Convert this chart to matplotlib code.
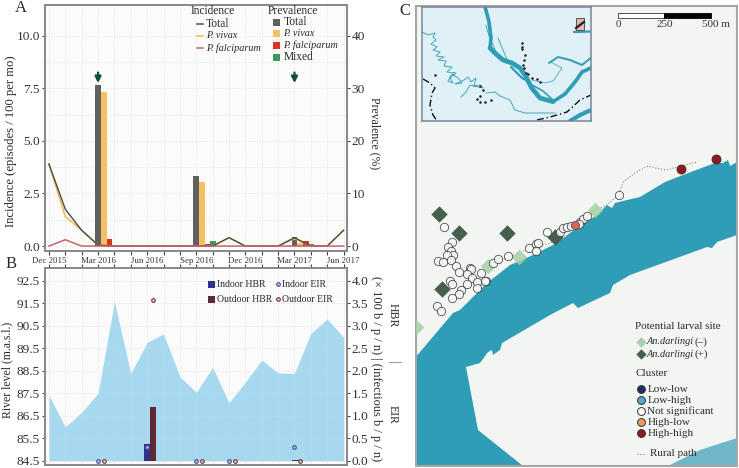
import matplotlib
matplotlib.use("Agg")
import matplotlib.pyplot as plt
import numpy as np
from matplotlib.patches import Polygon, Rectangle

plt.rcParams["font.family"] = ["Liberation Serif", "DejaVu Serif"]

W, H = 739, 468

# panel A
months = np.arange(19)
month_labels = ["Dec 2015", "Mar 2016", "Jun 2016", "Sep 2016", "Dec 2016", "Mar 2017", "Jun 2017"]
month_label_pos = [0, 3, 6, 9, 12, 15, 18]
inc_total = [3.9, 1.75, 0.75, 0.05, 0, 0, 0, 0, 0, 0, 0, 0.4, 0, 0, 0, 0.4, 0, 0, 0.75]
inc_vivax = [3.9, 1.4, 0.75, 0.05, 0, 0, 0, 0, 0, 0, 0, 0.4, 0, 0, 0, 0.35, 0, 0, 0.75]
inc_falc = [0, 0.3, 0, 0, 0, 0, 0, 0, 0, 0, 0, 0, 0, 0, 0, 0, 0, 0, 0]
survey_months = [3, 9, 15]
prev_total = [30.6, 13.4, 1.8]
prev_vivax = [29.3, 12.1, 0.5]
prev_falc = [1.4, 0.4, 0.9]
prev_mixed = [0, 0.95, 0.4]
arrow_months = [3, 15]
arrow_tip = [7.75, 7.75]

# panel B
river_level = [87.4, 86.0, 86.65, 87.5, 91.57, 88.38, 89.76, 90.13, 88.23, 87.54,
               88.65, 87.08, 88.0, 88.97, 88.4, 88.38, 90.16, 90.8, 89.98]
hbr_months = [6, 15]
hbr_indoor = [0.37, 0.01]
hbr_outdoor = [1.185, 0.01]
eir_in_months = [3, 6, 9, 11, 15]
eir_indoor = [0, 0.3, 0, 0, 0.3]
eir_out_months = [3, 6, 9, 11, 15]
eir_outdoor = [0, 3.58, 0, 0, 0]

# panel C, map coordinates follow the picture
river_x = [737, 730, 728, 723, 715, 683, 665, 640, 623, 615, 612, 607, 597, 570, 557, 533, 517,
           510, 500, 487, 460, 453, 415, 415, 523, 478, 466, 480, 488, 492, 493, 500, 502, 550,
           573, 578, 610, 613, 630, 707, 712, 717, 737]
river_y = [162, 166, 160, 163, 163, 175, 182, 197, 201, 203, 208, 205, 215, 233, 243, 255, 262,
           265, 273, 283, 310, 313, 358, 466, 466, 430, 367, 363, 352, 350, 355, 350, 343, 315,
           303, 308, 293, 285, 275, 247, 248, 242, 235]
corner_x = [668, 700, 737, 737, 668]
corner_y = [466, 450, 438, 466, 466]
site_x = [443.7, 452, 448.3, 450.7, 453.3, 446.7, 438.3, 442.7, 451, 456, 459.3, 470, 470.7, 467.3,
          471.7, 480.7, 486, 485.3, 477.3, 477.3, 467, 460.7, 458.7, 451.7, 450, 451.7, 436.7, 440.7,
          492.7, 497.7, 508, 529, 536, 538.3, 536, 547, 560, 563.3, 567.3, 571, 580, 583.3, 579.3,
          586.7, 618.7]
site_y = [227.3, 241.7, 247.3, 250.7, 255, 255, 260.7, 261.7, 260, 266, 271.7, 268.3, 269.3, 274.3,
          277.7, 273.3, 280.7, 280.7, 281.7, 287.7, 284.3, 290, 294, 297.7, 281, 284, 305.7, 310.7,
          263.3, 259, 255.7, 248.3, 244.3, 243.3, 251, 232.3, 231.7, 228.3, 227, 226, 221.7, 219.3, 224,
          216.3, 194.7]
high_low_x = [575]
high_low_y = [225.3]
high_high_x = [681, 716]
high_high_y = [169, 159]
larva_pos_x = [438.7, 458.7, 506.7, 441.7, 555]
larva_pos_y = [214.3, 232.7, 233.3, 289, 237.3]
larva_neg_x = [487.7, 518.7, 595, 416]
larva_neg_y = [266, 256.7, 210, 327.3]
path_x = [696, 680, 666.7, 656.7, 648.3, 636.7, 623.3, 618.3, 606.7, 586.7, 573.3, 550, 530, 510, 490]
path_y = [162.3, 166, 170, 168.3, 166, 171.7, 181.7, 195, 205, 215, 225, 243.3, 248.3, 256.7, 265]
scale_m = [0, 250, 500]
cluster_names = ["Low-low", "Low-high", "Not significant", "High-low", "High-high"]
cluster_colors = ["#1f2a6b", "#57a8c4", "#ffffff", "#ee9a52", "#8c1c22"]

# inset map channels: x, y, width
channels = [
    ([485, 489, 491, 490], [6.7, 21.7, 38, 48], 2.6),
    ([490, 496, 503, 512, 520, 525, 531.7, 540, 553], [48, 54, 60, 63, 68, 75, 88, 98, 101.7], 3.4),
    ([553, 565, 575, 582, 590.7], [101.7, 94, 82, 72, 68], 2.6),
    ([549, 558, 570, 582, 590.7], [63, 57, 60, 65, 58], 1.4),
    ([532, 545, 553, 562, 556, 551], [80, 83, 81, 68, 65, 62], 0.5),
    ([511, 522, 530], [67, 78, 82], 1.6),
    ([532, 543, 553], [85, 91, 100], 1.2),
    ([591, 580, 570], [110, 115, 121], 3.0),
    ([574, 590.7], [32, 31.5], 1.6),
    ([486, 489, 496], [25, 36, 52], 0.6),
    ([498, 503, 508], [38, 50, 62], 0.6),
]
meander_x = [422, 428, 435, 433, 436, 431, 437, 433, 440, 436, 444, 438, 446, 444, 452, 447, 456, 450,
             453, 448, 452, 458, 462, 455, 464, 468, 471, 476, 474, 480, 483, 478, 470, 466, 461]
meander_y = [32, 35, 33, 37, 40, 44, 47, 50, 52, 56, 57, 60, 61, 66, 67, 72, 73, 78, 83, 81, 74,
             78, 83, 84, 80, 77, 82, 78, 86, 85, 88, 87, 85, 92, 97]
stream_x = [486, 495, 500, 510, 515, 525, 538, 555]
stream_y = [93, 92, 96, 100, 110, 113, 113, 113]
border_x = [[423, 430, 435, 432, 430, 433, 437], [537, 550, 567, 580, 591]]
border_y = [[79, 83, 88, 93, 105, 115, 121], [120, 117, 112, 100, 95]]
town_x = [522.3, 522.3, 522.3, 525, 524.3, 523.3, 524, 526, 528.3, 531.7, 536.7, 540, 435, 480, 483.3,
          480, 476.7, 480, 485, 490.7]
town_y = [42.7, 46.7, 49, 55, 60, 65, 68.3, 73.3, 74, 77.7, 79, 81.7, 75, 86, 90, 95.7, 99.3, 102.3, 101.7, 100]


def px_axes(left, top, right, bottom, **kw):
    return plt.gcf().add_axes([left / W, 1 - bottom / H, (right - left) / W, (bottom - top) / H], **kw)


def style_spines(ax, color="#8a8a8a", lw=1.3):
    for s in ax.spines.values():
        s.set_color(color)
        s.set_linewidth(lw)


fig = plt.figure(figsize=(W / 100, H / 100), dpi=100, facecolor="white")
tick_kw = dict(labelsize=9.6, length=2.2, color="#444444", labelcolor="#333333", pad=1.5)

# A: bars on the prevalence axis, lines on the twin so they stay on top
a_prev = px_axes(45, 5, 346.7, 250.7, facecolor="#fbfbfb")
a_prev.set_xlim(-0.24, 18.19)
a_prev.set_ylim(-0.22 * 4, 11.46 * 4)
w = 0.346
xs = np.array(survey_months)
a_prev.bar(xs, prev_total, w, color="#615f5f", zorder=3)
a_prev.bar(xs + w, prev_vivax, w, color="#f6bf5f", zorder=3)
a_prev.bar(xs + 2 * w, prev_falc, w, color="#dc3220", zorder=3)
a_prev.bar(xs + 3 * w, prev_mixed, w, color="#3a9a5c", zorder=3)
a_prev.set_xticks(months)
a_prev.set_yticks([0, 10, 20, 30, 40])
a_prev.set_yticks(np.arange(0, 45, 5), minor=True)
a_prev.set_xticklabels([month_labels[month_label_pos.index(m)] if m in month_label_pos else "" for m in months], fontsize=6.4, color="#333333")
a_prev.tick_params(axis="x", length=3, color="#444444", pad=1.5)
a_prev.grid(True, which="both", color="#dcdcdc", lw=0.5, ls=":")
a_prev.set_axisbelow(True)
style_spines(a_prev)

a_inc = a_prev.twinx()
a_inc.set_ylim(-0.22, 11.46)
a_inc.yaxis.tick_left()
a_prev.yaxis.tick_right()
a_prev.tick_params(axis="y", which="major", **tick_kw)
a_prev.tick_params(axis="y", which="minor", length=0)
a_inc.set_yticks([0, 2.5, 5, 7.5, 10])
a_inc.set_yticklabels(["0.0", "2.5", "5.0", "7.5", "10.0"])
a_inc.tick_params(axis="y", **tick_kw)
a_inc.plot(months, inc_vivax, color="#f0b858", lw=1.1)
a_inc.plot(months, inc_total, color="#4c4c3c", lw=1.0)
a_inc.plot(months, inc_falc, color="#c8636a", lw=1.1)
for m, tip in zip(arrow_months, arrow_tip):
    a_inc.annotate("", xy=(m, tip), xytext=(m, tip + 0.5),
                   arrowprops=dict(arrowstyle="-|>", color="#0f4f2c", lw=1.6, mutation_scale=9, shrinkA=0, shrinkB=0))
style_spines(a_inc)

# B
b_river = px_axes(45, 267.7, 346.7, 465, facecolor="#fbfbfb")
b_river.set_xlim(-0.24, 18.19)
b_river.set_ylim(84.5 - 4.3 / 22.5, 84.5 + 193 / 22.5)
b_river.fill_between(months, 84.5, river_level, color="#a6d9ef", lw=0, zorder=1)
b_river.set_yticks(np.arange(84.5, 93, 1))
b_river.set_xticks(months)
b_river.xaxis.tick_top()
b_river.set_xticklabels([])
b_river.tick_params(axis="x", length=3, color="#444444")
b_river.tick_params(axis="y", **tick_kw)
b_river.grid(True, color="#d8d8d8", lw=0.5, ls=":")
style_spines(b_river)

b_ent = b_river.twinx()
b_ent.set_ylim(-4.3 / 45, 193 / 45)
b_ent.set_xlim(-0.24, 18.19)
b_ent.set_yticks(np.arange(0, 4.5, 0.5))
b_ent.tick_params(axis="y", **tick_kw)
hx = np.array(hbr_months)
b_ent.bar(hx, hbr_indoor, w, color="#33318c", zorder=3)
b_ent.bar(hx + w, hbr_outdoor, w, color="#5c2a30", zorder=3)
b_ent.scatter(eir_in_months, eir_indoor, s=7, facecolor="#b9c6ea", edgecolor="#4a4a9c", lw=0.8, zorder=4, clip_on=False)
b_ent.scatter(np.array(eir_out_months) + w, eir_outdoor, s=7, facecolor="#e8c8c0", edgecolor="#6e3a3a", lw=0.8, zorder=4, clip_on=False)
style_spines(b_ent)

# C
c = px_axes(415.7, 6, 736.7, 465.7, facecolor="#f3f5f3")
c.set_xlim(415.7, 736.7)
c.set_ylim(465.7, 6)
c.set_xticks([])
c.set_yticks([])
c.add_patch(Polygon(np.column_stack([river_x, river_y]), closed=True, color="#2e9db5", lw=0))
c.add_patch(Polygon(np.column_stack([corner_x, corner_y]), closed=True, color="#6fb6c9", lw=0))
c.plot(path_x, path_y, color="#666666", lw=0.7, ls=(0, (1, 2)), zorder=2)
c.scatter(larva_neg_x, larva_neg_y, marker="D", s=62, color="#a8cfa6", lw=0, alpha=0.85, zorder=3)
c.scatter(larva_pos_x, larva_pos_y, marker="D", s=70, color="#47604c", lw=0, zorder=3)
c.scatter(site_x, site_y, s=36, facecolor="#f8f8f8", edgecolor="#333333", lw=0.6, alpha=0.85, zorder=4)
c.scatter(high_low_x, high_low_y, s=34, facecolor="#e0654d", edgecolor="#555555", lw=0.6, zorder=5)
c.scatter(high_high_x, high_high_y, s=42, facecolor="#8c1c22", edgecolor="#5a1a1a", lw=0.6, zorder=5)
style_spines(c, "#a6a6a6", 1.5)

# scale bar
scale_px = [618 + m * 0.1854 for m in scale_m]
c.add_patch(Rectangle((scale_px[0], 13), scale_px[1] - scale_px[0], 5, facecolor="white", edgecolor="#333333", lw=0.6))
c.add_patch(Rectangle((scale_px[1], 13), scale_px[2] - scale_px[1], 5, facecolor="black", edgecolor="black", lw=0.6))
for xp, lab in zip(scale_px, ["0", "250", "500 m"]):
    c.text(xp + (5 if "m" in lab else 0), 24.5, lab, ha="center", va="center", fontsize=8, color="#333333")

# C legend
leg_color = "#2a2a2a"
c.text(635, 326, "Potential larval site", fontsize=7.9, va="center", color=leg_color)
c.scatter([641], [341.7], marker="D", s=28, color="#a8cfa6", lw=0)
c.scatter([641], [354], marker="D", s=28, color="#47604c", lw=0)
c.text(647, 341.7, "An.darlingi", fontsize=7.4, style="italic", va="center", color=leg_color)
c.text(647, 354, "An.darlingi", fontsize=7.4, style="italic", va="center", color=leg_color)
c.text(694.5, 341.7, "(–)", fontsize=8, va="center", color=leg_color)
c.text(694.5, 354, "(+)", fontsize=8, va="center", color=leg_color)
c.text(635, 373.3, "Cluster", fontsize=8, va="center", color=leg_color)
for i, (nm, col) in enumerate(zip(cluster_names, cluster_colors)):
    yy = 389 + i * 11.1
    c.scatter([641], [yy], s=32, facecolor=col, edgecolor="#333333", lw=0.7, zorder=5)
    c.text(647.3, yy, nm, fontsize=8, va="center", color=leg_color)
c.plot([637, 645], [454, 454], color="#666666", lw=0.7, ls=(0, (1, 2)))
c.text(650, 454, "Rural path", fontsize=8, va="center", color=leg_color, zorder=6)

# inset
ins = px_axes(421.7, 6.7, 590.7, 121, facecolor="#dff0f6")
ins.set_xlim(421.7, 590.7)
ins.set_ylim(121, 6.7)
ins.set_xticks([])
ins.set_yticks([])
style_spines(ins, "#7a8499", 1.1)
for cx, cy, lw in channels:
    ins.plot(cx, cy, color="#2e9db5", lw=lw, solid_capstyle="round", solid_joinstyle="round")
ins.plot(meander_x, meander_y, color="#2e9db5", lw=0.6)
ins.plot(stream_x, stream_y, color="#2e9db5", lw=0.6)
for bx, by in zip(border_x, border_y):
    ins.plot(bx, by, color="#111111", lw=1.0, ls=(0, (5, 2, 1, 2)))
ins.scatter(town_x, town_y, s=3.5, color="#2a2230", lw=0, zorder=4)
ins.add_patch(Rectangle((575.7, 18.3), 8.6, 11.7, facecolor="#e8b4b0", edgecolor="#555555", lw=0.7, zorder=5))
ins.plot([576, 584], [28, 22], color="#222222", lw=1.6, zorder=6)

# overlay for labels and the legends of A and B
ov = fig.add_axes([0, 0, 1, 1], facecolor="none")
ov.set_xlim(0, W)
ov.set_ylim(H, 0)
ov.axis("off")
ink = "#2a2a2a"
ov.text(20.5, 8, "A", fontsize=12, ha="center", va="center", color=ink)
ov.text(11.5, 264, "B", fontsize=12, ha="center", va="center", color=ink)
ov.text(405, 11, "C", fontsize=12, ha="center", va="center", color=ink)
ov.text(11, 141, "Incidence (episodes / 100 per mo)", rotation=90, fontsize=9.1, ha="center", va="center", color=ink)
ov.text(375, 133, "Prevalence (%)", rotation=270, fontsize=8.5, ha="center", va="center", color=ink)
ov.text(7, 370, "River level (m.a.s.l.)", rotation=90, fontsize=8.5, ha="center", va="center", color=ink)
ov.text(376, 369, "(× 100 b / p / n) | (infectious b / p / n)", rotation=270, fontsize=8.9, ha="center", va="center", color=ink)
ov.text(393, 315, "HBR", rotation=270, fontsize=8.5, ha="center", va="center", color=ink)
ov.text(393, 362, "|", rotation=270, fontsize=10, ha="center", va="center", color="#777777")
ov.text(393, 414, "EIR", rotation=270, fontsize=8.5, ha="center", va="center", color=ink)

# A legends
ov.text(190.3, 11.5, "Incidence", fontsize=8.3, va="center", color=ink)
for yy, col, lab, ital in [(24.3, "#4c4c3c", "Total", False), (36, "#f0b858", "P. vivax", True), (48.3, "#c8636a", "P. falciparum", True)]:
    ov.plot([196.7, 203], [yy, yy], color=col, lw=1.1)
    ov.text(205.7, yy, lab, fontsize=7.3 if ital else 8.3, va="center", style="italic" if ital else "normal", color=ink)
ov.text(268, 11.5, "Prevalence", fontsize=8.3, va="center", color=ink)
for yy, col, lab, ital in [(22.3, "#615f5f", "Total", False), (33.3, "#f6bf5f", "P. vivax", True), (45, "#dc3220", "P. falciparum", True), (57, "#3a9a5c", "Mixed", False)]:
    ov.add_patch(Rectangle((272.5, yy - 3.5), 7, 7, color=col, lw=0))
    ov.text(283.3, yy, lab, fontsize=7.3 if ital else 8.3, va="center", style="italic" if ital else "normal", color=ink)

# B legend
for yy, col, lab in [(284.3, "#33318c", "Indoor HBR"), (299.3, "#5c2a30", "Outdoor HBR")]:
    ov.add_patch(Rectangle((207.5, yy - 3.5), 7, 7, color=col, lw=0))
    ov.text(217, yy, lab, fontsize=7, va="center", color=ink)
ov.scatter([278], [284.3], s=7, facecolor="#b9c6ea", edgecolor="#4a4a9c", lw=0.8)
ov.scatter([278], [299.3], s=7, facecolor="#e8c8c0", edgecolor="#6e3a3a", lw=0.8)
ov.text(282.3, 284.3, "Indoor EIR", fontsize=7, va="center", color=ink)
ov.text(282.3, 299.3, "Outdoor EIR", fontsize=7, va="center", color=ink)

fig.savefig("out.png", dpi=100)
